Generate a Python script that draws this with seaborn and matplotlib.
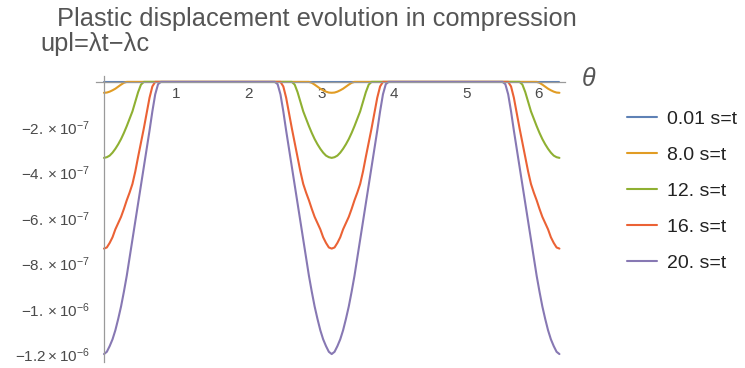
import numpy as np
import pandas as pd
import matplotlib
matplotlib.use("Agg")
import matplotlib.pyplot as plt
import seaborn as sns
from matplotlib.ticker import MultipleLocator

# Sampling of the angle over one full turn
theta = np.linspace(0.0, 2.0 * np.pi, 161)

series_labels = ["0.01 s=t", "8.0 s=t", "12. s=t", "16. s=t", "20. s=t"]
line_colors = ["#5E81B5", "#E19C24", "#8FB032", "#EB6235", "#8778B3"]

# Plastic displacement upl, in units of 1e-7 (one row per quarter turn)
upl_001 = [
    0, 0, 0, 0, 0, 0, 0, 0, 0, 0, 0, 0, 0, 0, 0, 0, 0, 0, 0, 0,
    0, 0, 0, 0, 0, 0, 0, 0, 0, 0, 0, 0, 0, 0, 0, 0, 0, 0, 0, 0, 0,
    0, 0, 0, 0, 0, 0, 0, 0, 0, 0, 0, 0, 0, 0, 0, 0, 0, 0, 0, 0,
    0, 0, 0, 0, 0, 0, 0, 0, 0, 0, 0, 0, 0, 0, 0, 0, 0, 0, 0, 0,
    0, 0, 0, 0, 0, 0, 0, 0, 0, 0, 0, 0, 0, 0, 0, 0, 0, 0, 0, 0,
    0, 0, 0, 0, 0, 0, 0, 0, 0, 0, 0, 0, 0, 0, 0, 0, 0, 0, 0, 0,
    0, 0, 0, 0, 0, 0, 0, 0, 0, 0, 0, 0, 0, 0, 0, 0, 0, 0, 0, 0,
    0, 0, 0, 0, 0, 0, 0, 0, 0, 0, 0, 0, 0, 0, 0, 0, 0, 0, 0, 0,
]
upl_8 = [
    -0.48, -0.47, -0.43, -0.37, -0.30, -0.21, -0.12, -0.04,
    0, 0, 0, 0, 0, 0, 0, 0, 0, 0, 0, 0, 0, 0, 0, 0, 0, 0, 0, 0, 0, 0, 0, 0, 0, 0, 0, 0, 0, 0, 0, 0, 0,
    0, 0, 0, 0, 0, 0, 0, 0, 0, 0, 0, 0, 0, 0, 0, 0, 0, 0, 0, 0, 0, 0, 0, 0, 0, 0, 0, 0, 0, 0, 0, 0,
    -0.04, -0.12, -0.21, -0.30, -0.37, -0.43, -0.47, -0.48,
    -0.47, -0.43, -0.37, -0.30, -0.21, -0.12, -0.04,
    0, 0, 0, 0, 0, 0, 0, 0, 0, 0, 0, 0, 0, 0, 0, 0, 0, 0, 0, 0, 0, 0, 0, 0, 0, 0, 0, 0, 0, 0, 0, 0, 0,
    0, 0, 0, 0, 0, 0, 0, 0, 0, 0, 0, 0, 0, 0, 0, 0, 0, 0, 0, 0, 0, 0, 0, 0, 0, 0, 0, 0, 0, 0, 0, 0,
    -0.04, -0.12, -0.21, -0.30, -0.37, -0.43, -0.47, -0.48,
]
upl_12 = [
    -3.35, -3.32, -3.25, -3.12, -2.95, -2.75, -2.52, -2.25, -1.95, -1.63, -1.30, -0.88, -0.45, -0.12,
    0, 0, 0, 0, 0, 0, 0, 0, 0, 0, 0, 0, 0, 0, 0, 0, 0, 0, 0, 0, 0, 0, 0, 0, 0, 0, 0,
    0, 0, 0, 0, 0, 0, 0, 0, 0, 0, 0, 0, 0, 0, 0, 0, 0, 0, 0, 0, 0, 0, 0, 0, 0, 0,
    -0.12, -0.45, -0.88, -1.30, -1.63, -1.95, -2.25, -2.52, -2.75, -2.95, -3.12, -3.25, -3.32, -3.35,
    -3.32, -3.25, -3.12, -2.95, -2.75, -2.52, -2.25, -1.95, -1.63, -1.30, -0.88, -0.45, -0.12,
    0, 0, 0, 0, 0, 0, 0, 0, 0, 0, 0, 0, 0, 0, 0, 0, 0, 0, 0, 0, 0, 0, 0, 0, 0, 0, 0,
    0, 0, 0, 0, 0, 0, 0, 0, 0, 0, 0, 0, 0, 0, 0, 0, 0, 0, 0, 0, 0, 0, 0, 0, 0, 0,
    -0.12, -0.45, -0.88, -1.30, -1.63, -1.95, -2.25, -2.52, -2.75, -2.95, -3.12, -3.25, -3.32, -3.35,
]
upl_16 = [
    -7.35, -7.30, -7.10, -6.85, -6.50, -6.22, -5.95, -5.60, -5.22, -4.88, -4.50, -3.95, -3.30, -2.68,
    -2.05, -1.38, -0.70, -0.20,
    0, 0, 0, 0, 0, 0, 0, 0, 0, 0, 0, 0, 0, 0, 0, 0, 0, 0, 0, 0, 0, 0, 0,
    0, 0, 0, 0, 0, 0, 0, 0, 0, 0, 0, 0, 0, 0, 0, 0, 0, 0, 0, 0, 0, 0,
    -0.20, -0.70, -1.38, -2.05, -2.68, -3.30, -3.95, -4.50, -4.88, -5.22, -5.60, -5.95, -6.22, -6.50,
    -6.85, -7.10, -7.30, -7.35,
    -7.30, -7.10, -6.85, -6.50, -6.22, -5.95, -5.60, -5.22, -4.88, -4.50, -3.95, -3.30, -2.68,
    -2.05, -1.38, -0.70, -0.20,
    0, 0, 0, 0, 0, 0, 0, 0, 0, 0, 0, 0, 0, 0, 0, 0, 0, 0, 0, 0, 0, 0, 0,
    0, 0, 0, 0, 0, 0, 0, 0, 0, 0, 0, 0, 0, 0, 0, 0, 0, 0, 0, 0, 0, 0,
    -0.20, -0.70, -1.38, -2.05, -2.68, -3.30, -3.95, -4.50, -4.88, -5.22, -5.60, -5.95, -6.22, -6.50,
    -6.85, -7.10, -7.30, -7.35,
]
upl_20 = [
    -12.0, -11.9, -11.65, -11.35, -10.95, -10.45, -9.90, -9.25, -8.55, -7.75,
    -6.95, -6.15, -5.35, -4.55, -3.75, -2.95, -2.15, -1.30, -0.55, -0.10,
    0, 0, 0, 0, 0, 0, 0, 0, 0, 0, 0, 0, 0, 0, 0, 0, 0, 0, 0, 0, 0,
    0, 0, 0, 0, 0, 0, 0, 0, 0, 0, 0, 0, 0, 0, 0, 0, 0, 0, 0, 0,
    -0.10, -0.55, -1.30, -2.15, -2.95, -3.75, -4.55, -5.35, -6.15, -6.95,
    -7.75, -8.55, -9.25, -9.90, -10.45, -10.95, -11.35, -11.65, -11.9, -12.0,
    -11.9, -11.65, -11.35, -10.95, -10.45, -9.90, -9.25, -8.55, -7.75,
    -6.95, -6.15, -5.35, -4.55, -3.75, -2.95, -2.15, -1.30, -0.55, -0.10,
    0, 0, 0, 0, 0, 0, 0, 0, 0, 0, 0, 0, 0, 0, 0, 0, 0, 0, 0, 0, 0,
    0, 0, 0, 0, 0, 0, 0, 0, 0, 0, 0, 0, 0, 0, 0, 0, 0, 0, 0, 0,
    -0.10, -0.55, -1.30, -2.15, -2.95, -3.75, -4.55, -5.35, -6.15, -6.95,
    -7.75, -8.55, -9.25, -9.90, -10.45, -10.95, -11.35, -11.65, -11.9, -12.0,
]
all_series = [upl_001, upl_8, upl_12, upl_16, upl_20]
UNIT = 1e-7

x_ticks = [1, 2, 3, 4, 5, 6]
y_ticks = [-2e-7, -4e-7, -6e-7, -8e-7, -1e-6, -1.2e-6]
y_tick_labels = [r"$-2.\times10^{-7}$", r"$-4.\times10^{-7}$", r"$-6.\times10^{-7}$",
                 r"$-8.\times10^{-7}$", r"$-1.\times10^{-6}$", r"$-1.2\times10^{-6}$"]

frames = []
for label, vals in zip(series_labels, all_series):
    frames.append(pd.DataFrame({"theta": theta,
                                "upl": np.asarray(vals, dtype=float) * UNIT,
                                "t": label}))
df = pd.concat(frames, ignore_index=True)

sns.set_style("white")
plt.rcParams["font.family"] = ["Liberation Sans", "DejaVu Sans"]
plt.rcParams["mathtext.fontset"] = "custom"
plt.rcParams["mathtext.rm"] = "Liberation Sans"
plt.rcParams["mathtext.it"] = "Liberation Sans:italic"
plt.rcParams["axes.unicode_minus"] = True

W, H = 745, 368
fig = plt.figure(figsize=(W / 100, H / 100), dpi=100)
ax = fig.add_axes([96 / W, 1 - 362 / H, (565 - 96) / W, (362 - 76) / H])

sns.lineplot(data=df, x="theta", y="upl", hue="t", hue_order=series_labels,
             palette=line_colors, sort=False, estimator=None, linewidth=1.5, ax=ax)

ax.set_xlim(-0.11, 6.36)
ax.set_ylim(-12.35e-7, 0.26e-7)

axis_color = "#9a9a9a"
for side in ("top", "right"):
    ax.spines[side].set_visible(False)
ax.spines["left"].set_position(("data", 0))
ax.spines["bottom"].set_position(("data", 0))
for side in ("left", "bottom"):
    ax.spines[side].set_color(axis_color)
    ax.spines[side].set_linewidth(0.9)

ax.set_xticks(x_ticks)
ax.set_xticklabels([str(v) for v in x_ticks])
ax.xaxis.set_minor_locator(MultipleLocator(0.2))
ax.set_yticks(y_ticks)
ax.set_yticklabels(y_tick_labels)
ax.yaxis.set_minor_locator(MultipleLocator(0.5e-7))

ax.tick_params(axis="both", which="major", direction="in", length=5, width=0.8,
               color=axis_color, labelcolor="#4a4a4a", labelsize=11)
ax.tick_params(axis="both", which="minor", direction="in", length=2.5, width=0.7,
               color=axis_color)
ax.tick_params(axis="x", which="major", pad=4)
ax.tick_params(axis="y", which="major", pad=10)
ax.set_xlabel("")
ax.set_ylabel("")

handles, labels = ax.get_legend_handles_labels()
ax.legend(handles, labels, loc="center left", bbox_to_anchor=(609 / W, 1 - 191 / H),
          bbox_transform=fig.transFigure, frameon=False, fontsize=14,
          handlelength=1.55, handletextpad=0.55, labelspacing=0.95, labelcolor="#222222")

fig.text(57 / W, 1 - 26 / H, "Plastic displacement evolution in compression",
         fontsize=18.3, color="#555555", ha="left", va="baseline")
fig.text(40 / W, 1 - 51 / H, "upl=λt−λc",
         fontsize=18.3, color="#555555", ha="left", va="baseline")
fig.text(589 / W, 1 - 79 / H, "θ", fontsize=18, style="italic", color="#555555",
         ha="center", va="center")

fig.savefig("out.png", dpi=100, facecolor="white")
